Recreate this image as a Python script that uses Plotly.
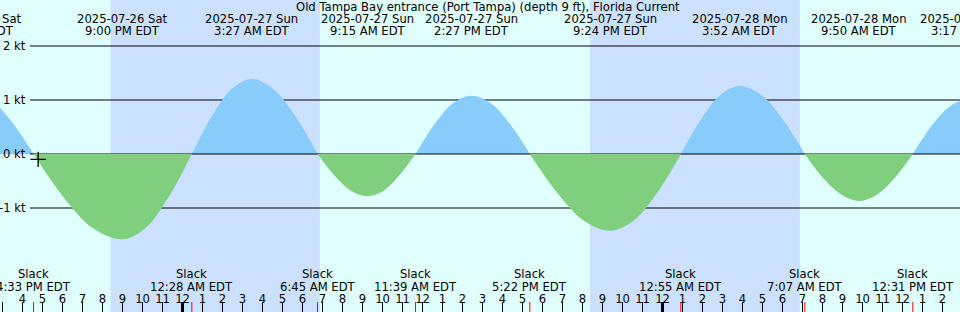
import pandas as pd
import plotly.graph_objects as go

title = "Old Tampa Bay entrance (Port Tampa) (depth 9 ft), Florida Current"

x_start = "2025-07-26 14:52:30"
x_end = "2025-07-28 14:52:30"
y_min, y_max = -2.926, 2.852

# current curve readings (time, knots); zeros are slack water
curve_time = [
    "2025-07-26 10:36", "2025-07-26 11:38", "2025-07-26 12:40", "2025-07-26 13:42", "2025-07-26 14:39", "2025-07-26 15:36",
    "2025-07-26 16:33", "2025-07-26 18:02", "2025-07-26 19:31", "2025-07-26 21:00", "2025-07-26 22:09", "2025-07-26 23:19",
    "2025-07-27 00:28", "2025-07-27 01:28", "2025-07-27 02:27", "2025-07-27 03:27", "2025-07-27 04:33", "2025-07-27 05:39",
    "2025-07-27 06:45", "2025-07-27 07:35", "2025-07-27 08:25", "2025-07-27 09:15", "2025-07-27 10:03", "2025-07-27 10:51",
    "2025-07-27 11:39", "2025-07-27 12:35", "2025-07-27 13:31", "2025-07-27 14:27", "2025-07-27 15:25", "2025-07-27 16:24",
    "2025-07-27 17:22", "2025-07-27 18:43", "2025-07-27 20:03", "2025-07-27 21:24", "2025-07-27 22:34", "2025-07-27 23:45",
    "2025-07-28 00:55", "2025-07-28 01:54", "2025-07-28 02:53", "2025-07-28 03:52", "2025-07-28 04:57", "2025-07-28 06:02",
    "2025-07-28 07:07", "2025-07-28 08:01", "2025-07-28 08:56", "2025-07-28 09:50", "2025-07-28 10:44", "2025-07-28 11:37",
    "2025-07-28 12:31", "2025-07-28 13:26", "2025-07-28 14:22", "2025-07-28 15:17", "2025-07-28 16:15", "2025-07-28 17:13",
    "2025-07-28 18:10",
]
curve_kt = [
    0, 0.53, 0.92, 1.06, 0.92, 0.53,
    0, -0.79, -1.37, -1.58, -1.37, -0.79,
    0, 0.70, 1.20, 1.39, 1.20, 0.70,
    0, -0.39, -0.68, -0.78, -0.68, -0.39,
    0, 0.54, 0.94, 1.08, 0.94, 0.54,
    0, -0.71, -1.23, -1.42, -1.23, -0.71,
    0, 0.63, 1.09, 1.26, 1.09, 0.63,
    0, -0.44, -0.75, -0.87, -0.75, -0.44,
    0, 0.51, 0.88, 1.02, 0.88, 0.51,
    0,
]

slack_time = ["2025-07-26 16:33", "2025-07-27 00:28", "2025-07-27 06:45", "2025-07-27 11:39",
              "2025-07-27 17:22", "2025-07-28 00:55", "2025-07-28 07:07", "2025-07-28 12:31"]
slack_label = ["4:33 PM EDT", "12:28 AM EDT", "6:45 AM EDT", "11:39 AM EDT",
               "5:22 PM EDT", "12:55 AM EDT", "7:07 AM EDT", "12:31 PM EDT"]

max_time = ["2025-07-26 13:42", "2025-07-26 21:00", "2025-07-27 03:27", "2025-07-27 09:15", "2025-07-27 14:27",
            "2025-07-27 21:24", "2025-07-28 03:52", "2025-07-28 09:50", "2025-07-28 15:17"]
max_date_label = ["2025-07-26 Sat", "2025-07-26 Sat", "2025-07-27 Sun", "2025-07-27 Sun", "2025-07-27 Sun",
                  "2025-07-27 Sun", "2025-07-28 Mon", "2025-07-28 Mon", "2025-07-28 Mon"]
max_time_label = ["1:42 PM EDT", "9:00 PM EDT", "3:27 AM EDT", "9:15 AM EDT", "2:27 PM EDT",
                  "9:24 PM EDT", "3:52 AM EDT", "9:50 AM EDT", "3:17 PM EDT"]

sunset = ["2025-07-26 20:24", "2025-07-27 20:23"]
sunrise = ["2025-07-27 06:52", "2025-07-28 06:52"]
midnights = ["2025-07-27 00:00", "2025-07-28 00:00"]

ytick_vals = [2, 1, 0, -1]
ytick_text = ["2 kt", "1 kt", "0 kt", "-1 kt"]

now_time = "2025-07-26 16:47"
now_kt = -0.1

DAY = "#E0FFFF"
NIGHT = "#CCE0FF"
FLOOD = "#88CCFC"
EBB = "#7FCF7F"
FONT = "DejaVu Sans"
FS = 11.6
W, H = 960, 312

T0, T1 = pd.Timestamp(x_start), pd.Timestamp(x_end)


def frac(t):
    return (pd.Timestamp(t) - T0) / (T1 - T0)


def ypap(py):
    return 1 - py / H


# split the curve into humps at slack points
segments = []
cur_x, cur_y = [], []
for t, v in zip(curve_time, curve_kt):
    cur_x.append(t)
    cur_y.append(v)
    if v == 0 and len(cur_x) > 1:
        segments.append((cur_x, cur_y))
        cur_x, cur_y = [t], [v]

fig = go.Figure()
flood = [s for s in segments if max(s[1]) > 0]
ebb = [s for s in segments if min(s[1]) < 0]
for sx, sy in flood:
    fig.add_trace(go.Scatter(x=sx, y=sy, mode="lines", fill="tozeroy", fillcolor=FLOOD,
                             line=dict(width=0, shape="spline", color=FLOOD),
                             hoverinfo="skip", showlegend=False))
zl_start = T0 + (T1 - T0) * (30 / W)
fig.add_trace(go.Scatter(x=[zl_start, T1], y=[0, 0], mode="lines",
                         line=dict(color="black", width=1), hoverinfo="skip", showlegend=False))
for sx, sy in ebb:
    fig.add_trace(go.Scatter(x=sx, y=sy, mode="lines", fill="tozeroy", fillcolor=EBB,
                             line=dict(width=0, shape="spline", color=EBB),
                             hoverinfo="skip", showlegend=False))
fig.add_trace(go.Scatter(x=[now_time], y=[now_kt], mode="markers",
                         marker=dict(symbol="cross-thin", size=11, line=dict(color="black", width=1.3)),
                         hoverinfo="skip", showlegend=False))

shapes = []
# night bands
for ss, sr in zip(sunset, sunrise):
    shapes.append(dict(type="rect", layer="below", xref="x", yref="paper", x0=ss, x1=sr, y0=0, y1=1,
                       fillcolor=NIGHT, line=dict(width=0)))
# knot lines
for v in ytick_vals:
    if v == 0:
        continue
    shapes.append(dict(type="line", layer="below", xref="paper", yref="y", x0=30 / W, x1=1, y0=v, y1=v,
                       line=dict(color="black", width=1)))
# midnight thick ticks
for m in midnights:
    shapes.append(dict(type="line", layer="above", xref="x", yref="paper", x0=m, x1=m, y0=0, y1=10 / H,
                       line=dict(color="black", width=3)))
# slack red ticks
for s in slack_time:
    shapes.append(dict(type="line", layer="above", xref="x", yref="paper", x0=s, x1=s, y0=0, y1=10 / H,
                       line=dict(color="red", width=1)))

ann = []
fnt = dict(family=FONT, size=FS, color="black")
ann.append(dict(text=title, x=488 / W, y=ypap(7), xref="paper", yref="paper", showarrow=False,
                xanchor="center", yanchor="middle", font=fnt))
for t, d, tl in zip(max_time, max_date_label, max_time_label):
    ann.append(dict(text=d, x=frac(t), y=ypap(19), xref="paper", yref="paper", showarrow=False,
                    xanchor="center", yanchor="middle", font=fnt))
    ann.append(dict(text=tl, x=frac(t), y=ypap(31.5), xref="paper", yref="paper", showarrow=False,
                    xanchor="center", yanchor="middle", font=fnt))
for t, tl in zip(slack_time, slack_label):
    ann.append(dict(text="Slack", x=frac(t), y=ypap(273.5), xref="paper", yref="paper", showarrow=False,
                    xanchor="center", yanchor="middle", font=fnt))
    ann.append(dict(text=tl, x=frac(t), y=ypap(286.5), xref="paper", yref="paper", showarrow=False,
                    xanchor="center", yanchor="middle", font=fnt))
for v, tx in zip(ytick_vals, ytick_text):
    ann.append(dict(text=tx, x=28 / W, y=v, xref="paper", yref="y", showarrow=False,
                    xanchor="right", yanchor="middle", font=fnt))

fig.update_layout(
    width=W, height=H, margin=dict(l=0, r=0, t=0, b=0),
    paper_bgcolor=DAY, plot_bgcolor=DAY,
    shapes=shapes, annotations=ann, showlegend=False,
    xaxis=dict(type="date", range=[x_start, x_end], showgrid=False, zeroline=False, showline=False,
               ticks="inside", ticklen=10, tickwidth=1, tickcolor="black",
               tick0="2025-07-26 00:00", dtick=3600000, tickformat="%-I",
               ticklabelposition="inside", ticklabelstandoff=-4, tickfont=fnt, fixedrange=True),
    yaxis=dict(range=[y_min, y_max], visible=False, fixedrange=True),
)

fig.write_html("out.html", config={"displayModeBar": False})
